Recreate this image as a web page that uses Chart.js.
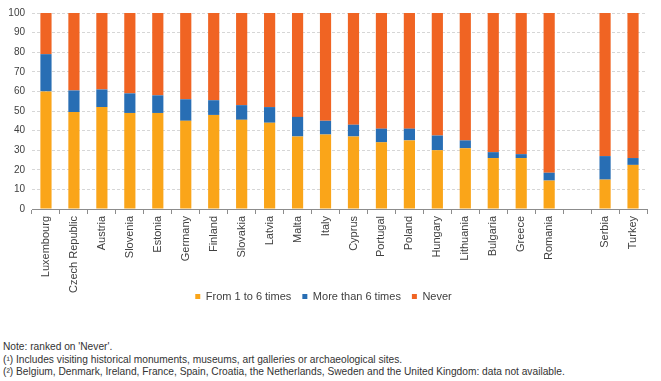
<!DOCTYPE html>
<html>
<head>
<meta charset="utf-8">
<script src="https://cdn.jsdelivr.net/npm/chart.js@4.4.1/dist/chart.umd.min.js"></script>
<style>
  body { margin: 0; background: #fff; font-family: "Liberation Sans", Arial, sans-serif; }
  #wrap { position: relative; width: 661px; height: 381px; overflow: hidden; }
  #myChart { position: absolute; left: 0; top: 0; }
  #notes { position: absolute; left: 3px; top: 341px; font-size: 10.2px; line-height: 12.5px; color: #333; white-space: nowrap; }
</style>
</head>
<body>
<div id="wrap">
  <canvas id="myChart" width="661" height="320"></canvas>
  <div id="notes">
    <div>Note: ranked on 'Never'.</div>
    <div>(¹) Includes visiting historical monuments, museums, art galleries or archaeological sites.</div>
    <div>(²) Belgium, Denmark, Ireland, France, Spain, Croatia, the Netherlands, Sweden and the United Kingdom: data not available.</div>
  </div>
</div>
<script>
const countries = ["Luxembourg", "Czech Republic", "Austria", "Slovenia", "Estonia", "Germany", "Finland",
  "Slovakia", "Latvia", "Malta", "Italy", "Cyprus", "Portugal", "Poland", "Hungary", "Lithuania",
  "Bulgaria", "Greece", "Romania", "", "Serbia", "Turkey"];

// share of people (%) — empty slot separates EU members from the others
const oneToSix = [60, 49.5, 52, 49, 49, 45, 48, 45.5, 44, 37, 38, 37, 34, 35, 30, 31, 26, 26, 14.5, null, 15, 22.5];
const moreThanSix = [19, 11, 9, 10, 9, 11, 7.5, 7.5, 8, 10, 7, 6, 7, 6, 7.5, 4, 3, 2, 4, null, 12, 3.5];
const never = [21, 39.5, 39, 41, 42, 44, 44.5, 47, 48, 53, 55, 57, 59, 59, 62.5, 65, 71, 72, 81.5, null, 73, 74];

const yTicks = [0, 10, 20, 30, 40, 50, 60, 70, 80, 90, 100];

let plot = () => {
  const ctx = document.getElementById("myChart");
  const bar = { barPercentage: 0.4, categoryPercentage: 1.0 };

  const dataset = {
    labels: countries,
    datasets: [
      { label: "From 1 to 6 times", data: oneToSix, backgroundColor: "#FAA519", ...bar },
      { label: "More than 6 times", data: moreThanSix, backgroundColor: "#286EB4", ...bar },
      { label: "Never", data: never, backgroundColor: "#F06423", ...bar }
    ]
  };

  const config = {
    type: "bar",
    data: dataset,
    options: {
      responsive: false,
      animation: false,
      devicePixelRatio: 1,
      layout: { padding: { top: 11, right: 14, bottom: 8, left: 0 } },
      plugins: {
        tooltip: { enabled: false },
        legend: {
          position: "bottom",
          labels: {
            boxWidth: 5,
            boxHeight: 5,
            padding: 11,
            color: "#404040",
            font: { family: "'Liberation Sans', Arial, sans-serif", size: 11 }
          }
        }
      },
      scales: {
        x: {
          stacked: true,
          grid: { offset: true, drawOnChartArea: false, drawTicks: true, tickLength: 5, color: "#8c8c8c" },
          border: { color: "#8c8c8c" },
          ticks: {
            autoSkip: false,
            minRotation: 90,
            maxRotation: 90,
            padding: 2,
            color: "#404040",
            font: { family: "'Liberation Sans', Arial, sans-serif", size: 11 }
          },
          afterFit: (s) => {
            s.height = 71;
            // long labels run into the legend band, so don't clip them to the axis box
            s._computeLabelArea = () => undefined;
          }
        },
        y: {
          stacked: true,
          min: 0,
          max: 100,
          afterBuildTicks: (s) => { s.ticks = yTicks.map(v => ({ value: v })); },
          grid: { color: "#d6d6d6", drawTicks: false },
          border: { display: false, dash: [3, 2] },
          ticks: {
            padding: 7,
            color: "#404040",
            font: { family: "'Liberation Sans', Arial, sans-serif", size: 10 }
          },
          afterFit: (s) => { s.width = 32; }
        }
      }
    }
  };
  new Chart(ctx, config);
};

plot();
</script>
</body>
</html>
